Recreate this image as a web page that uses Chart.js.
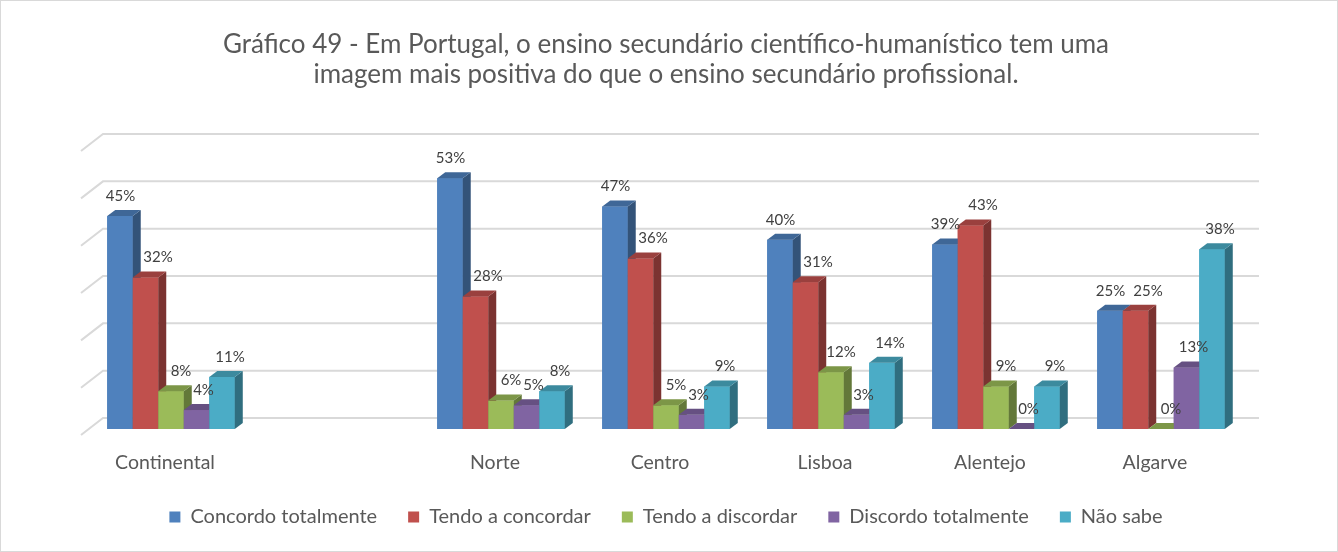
<!DOCTYPE html>
<html lang="pt">
<head>
<meta charset="utf-8">
<title>Gráfico 49</title>
<script src="https://cdn.jsdelivr.net/npm/chart.js@4.4.1/dist/chart.umd.min.js"></script>
<style>
  html, body { margin: 0; padding: 0; background: #fff; }
  #wrap { position: relative; width: 1338px; height: 552px; }
  #frame { position: absolute; inset: 0; border: 1px solid #d9d9d9; pointer-events: none; }
</style>
</head>
<body>
<div id="wrap">
  <canvas id="chart"></canvas>
  <div id="frame"></div>
</div>
<script>
// regions (the blank slot keeps the gap after Continental)
const regions = ['Continental', '', 'Norte', 'Centro', 'Lisboa', 'Alentejo', 'Algarve'];

// answers, in %
const concordoTotalmente = [45, null, 53, 47, 40, 39, 25];
const tendoConcordar     = [32, null, 28, 36, 31, 43, 25];
const tendoDiscordar     = [8,  null, 6,  5,  12, 9,  0];
const discordoTotalmente = [4,  null, 5,  3,  3,  0,  13];
const naoSabe            = [11, null, 8,  9,  14, 9,  38];

const seriesNames = ['Concordo totalmente', 'Tendo a concordar', 'Tendo a discordar', 'Discordo totalmente', 'Não sabe'];
const seriesColors = ['#4f81bd', '#c0504d', '#9bbb59', '#8064a2', '#4bacc6'];
// sideways nudge of the value labels, per series
const labelShift = [0.5, 12.5, 10, 7, 8];

const Y_MAX = 60;
const Y_STEP = 10;

const titleLines = [
  'Gráfico 49 - Em Portugal, o ensino secundário científico-humanístico tem uma',
  'imagem mais positiva do que o ensino secundário profissional.'
];

// fake 3d: bar extrusion and the back wall offset
const DEPTH_X = 8, DEPTH_Y = 6;
const WALL_X = 14.5, WALL_Y = 11;
const FONT = 'Lato, "Open Sans", sans-serif';

function shade(hex, f) {
  const n = parseInt(hex.slice(1), 16);
  const r = Math.round(((n >> 16) & 255) * f);
  const g = Math.round(((n >> 8) & 255) * f);
  const b = Math.round((n & 255) * f);
  return 'rgb(' + r + ',' + g + ',' + b + ')';
}

const bars3d = {
  id: 'bars3d',
  beforeDatasetsDraw(chart) {
    const { ctx, chartArea, scales: { y } } = chart;
    ctx.save();
    ctx.strokeStyle = '#d9d9d9';
    ctx.lineWidth = 2;
    for (let v = 0; v <= Y_MAX; v += Y_STEP) {
      const py = y.getPixelForValue(v) - WALL_Y;
      const x0 = chartArea.left + WALL_X;
      ctx.beginPath();
      ctx.moveTo(x0 - 22, py + 17);
      ctx.lineTo(x0, py);
      ctx.lineTo(chartArea.right + WALL_X + 1, py);
      ctx.stroke();
    }
    ctx.restore();
  },
  // chart.js paints the first dataset last, so the blocks are repainted
  // here left to right: front, side, top
  afterDatasetsDraw(chart) {
    const ctx = chart.ctx;
    ctx.save();
    chart.data.datasets.forEach((ds, d) => {
      const col = ds.backgroundColor;
      chart.getDatasetMeta(d).data.forEach((bar, i) => {
        if (ds.data[i] == null) return;
        const { x, y, base, width } = bar.getProps(['x', 'y', 'base', 'width'], true);
        const x0 = x - width / 2, x1 = x + width / 2;
        ctx.fillStyle = col;
        ctx.fillRect(x0, y, width, base - y);
        ctx.fillStyle = shade(col, 0.64);
        ctx.beginPath();
        ctx.moveTo(x1, y);
        ctx.lineTo(x1 + DEPTH_X, y - DEPTH_Y);
        ctx.lineTo(x1 + DEPTH_X, base - DEPTH_Y);
        ctx.lineTo(x1, base);
        ctx.closePath();
        ctx.fill();
        ctx.fillStyle = shade(col, 0.8);
        ctx.beginPath();
        ctx.moveTo(x0, y);
        ctx.lineTo(x0 + DEPTH_X, y - DEPTH_Y);
        ctx.lineTo(x1 + DEPTH_X, y - DEPTH_Y);
        ctx.lineTo(x1, y);
        ctx.closePath();
        ctx.fill();
      });
    });

    // value labels
    ctx.font = '15px ' + FONT;
    ctx.fillStyle = '#404040';
    ctx.textAlign = 'center';
    ctx.textBaseline = 'middle';
    chart.data.datasets.forEach((ds, d) => {
      chart.getDatasetMeta(d).data.forEach((bar, i) => {
        const v = ds.data[i];
        if (v == null) return;
        ctx.fillText(v + '%', bar.x + labelShift[d], bar.y - 20);
      });
    });
    ctx.restore();
  }
};

const allSeries = [concordoTotalmente, tendoConcordar, tendoDiscordar, discordoTotalmente, naoSabe];

new Chart(document.getElementById('chart'), {
  type: 'bar',
  data: {
    labels: regions,
    datasets: allSeries.map((vals, k) => ({
      label: seriesNames[k],
      data: vals,
      backgroundColor: seriesColors[k],
      borderWidth: 0,
      categoryPercentage: 0.773,
      barPercentage: 1
    }))
  },
  options: {
    responsive: true,
    maintainAspectRatio: false,
    animation: false,
    layout: { padding: { left: 88.5, right: 94.5, top: 0, bottom: 15 } },
    plugins: {
      title: {
        display: true,
        text: titleLines,
        color: '#595959',
        font: { family: FONT, size: 26, weight: 'normal', lineHeight: 1.154 },
        padding: { top: 30, bottom: 55 }
      },
      legend: {
        position: 'bottom',
        labels: {
          color: '#595959',
          font: { family: FONT, size: 20 },
          boxWidth: 11,
          boxHeight: 11,
          padding: 31
        }
      },
      tooltip: { enabled: false }
    },
    scales: {
      x: {
        grid: { display: false, drawTicks: false },
        border: { display: false },
        ticks: {
          color: '#595959',
          font: { family: FONT, size: 19.5, lineHeight: 1.2 },
          padding: 22.3,
          labelOffset: -6,
          maxRotation: 0,
          autoSkip: false
        },
        // keep the axis band short so the legend can sit lower
        afterFit(scale) { scale.height = 47; }
      },
      y: {
        display: false,
        min: 0,
        max: Y_MAX,
        ticks: { stepSize: Y_STEP }
      }
    }
  },
  plugins: [bars3d]
});
</script>
</body>
</html>
